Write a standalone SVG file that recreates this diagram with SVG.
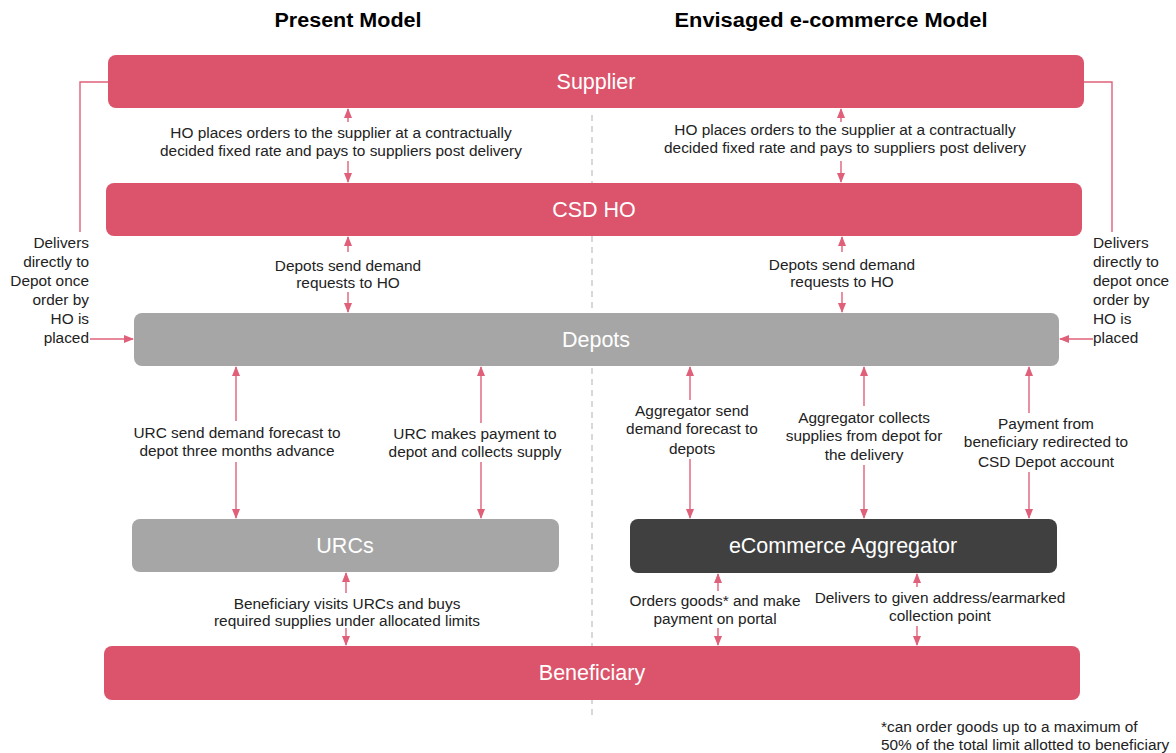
<svg xmlns="http://www.w3.org/2000/svg" width="1176" height="753" viewBox="0 0 1176 753">
<style>
.title{font-family:"Liberation Sans",Arial,sans-serif;font-size:20px;font-weight:bold;fill:#000;text-anchor:middle}
.node{font-family:"Liberation Sans",Arial,sans-serif;font-size:21.5px;fill:#fff;text-anchor:middle;dominant-baseline:central}
.lbl{font-family:"Liberation Sans",Arial,sans-serif;font-size:15.4px;fill:#222;text-anchor:middle}
.red{fill:#DB546B}
.gray{fill:#A6A6A6}
.dark{fill:#404040}
.con{stroke:#E0607A;stroke-width:1.4;fill:none}
.div{stroke:#c8c8c8;stroke-width:1.4;stroke-dasharray:6,5;fill:none}
</style>
<defs>
<marker id="ah" markerUnits="userSpaceOnUse" markerWidth="10" markerHeight="10" viewBox="0 0 10 10" refX="9" refY="5" orient="auto">
<path d="M0,1 L10,5 L0,9 Z" fill="#E0607A"/>
</marker>
</defs>
<rect width="1176" height="753" fill="#fff"/>
<line class="div" x1="592" y1="115" x2="592" y2="716"/>
<text class="title" x="348" y="27" textLength="147" lengthAdjust="spacingAndGlyphs">Present Model</text>
<text class="title" x="831" y="27" textLength="313" lengthAdjust="spacingAndGlyphs">Envisaged e-commerce Model</text>

<g id="supplier"><rect class="red" x="108" y="55" width="976" height="53" rx="8"/><text class="node" x="596" y="82">Supplier</text></g>
<g id="csdho"><rect class="red" x="106" y="183" width="976" height="53" rx="8"/><text class="node" x="594" y="210">CSD HO</text></g>
<g id="depots"><rect class="gray" x="134" y="313" width="925" height="53" rx="8"/><text class="node" x="596" y="340">Depots</text></g>
<g id="urcs"><rect class="gray" x="132" y="519" width="427" height="53" rx="8"/><text class="node" x="345" y="546">URCs</text></g>
<g id="aggregator"><rect class="dark" x="630" y="519" width="427" height="54" rx="8"/><text class="node" x="843" y="546">eCommerce Aggregator</text></g>
<g id="beneficiary"><rect class="red" x="104" y="646" width="976" height="54" rx="8"/><text class="node" x="592" y="673">Beneficiary</text></g>

<g id="connectors">
<line class="con" x1="348" y1="122" x2="348" y2="109" marker-end="url(#ah)"/>
<line class="con" x1="348" y1="161" x2="348" y2="182" marker-end="url(#ah)"/>
<line class="con" x1="841" y1="122" x2="841" y2="109" marker-end="url(#ah)"/>
<line class="con" x1="841" y1="161" x2="841" y2="182" marker-end="url(#ah)"/>

<line class="con" x1="348" y1="252" x2="348" y2="237" marker-end="url(#ah)"/>
<line class="con" x1="348" y1="292" x2="348" y2="312" marker-end="url(#ah)"/>
<line class="con" x1="842" y1="252" x2="842" y2="237" marker-end="url(#ah)"/>
<line class="con" x1="842" y1="292" x2="842" y2="312" marker-end="url(#ah)"/>

<line class="con" x1="236" y1="421" x2="236" y2="367" marker-end="url(#ah)"/>
<line class="con" x1="236" y1="462" x2="236" y2="518" marker-end="url(#ah)"/>
<line class="con" x1="481" y1="423" x2="481" y2="367" marker-end="url(#ah)"/>
<line class="con" x1="481" y1="462" x2="481" y2="518" marker-end="url(#ah)"/>

<line class="con" x1="690" y1="400" x2="690" y2="367" marker-end="url(#ah)"/>
<line class="con" x1="690" y1="459" x2="690" y2="518" marker-end="url(#ah)"/>
<line class="con" x1="864" y1="406" x2="864" y2="367" marker-end="url(#ah)"/>
<line class="con" x1="864" y1="465" x2="864" y2="518" marker-end="url(#ah)"/>
<line class="con" x1="1029" y1="413" x2="1029" y2="367" marker-end="url(#ah)"/>
<line class="con" x1="1029" y1="472" x2="1029" y2="518" marker-end="url(#ah)"/>

<line class="con" x1="346" y1="593" x2="346" y2="573" marker-end="url(#ah)"/>
<line class="con" x1="346" y1="628" x2="346" y2="645" marker-end="url(#ah)"/>
<line class="con" x1="718" y1="591" x2="718" y2="574" marker-end="url(#ah)"/>
<line class="con" x1="718" y1="628" x2="718" y2="645" marker-end="url(#ah)"/>
<line class="con" x1="917" y1="587" x2="917" y2="574" marker-end="url(#ah)"/>
<line class="con" x1="917" y1="626" x2="917" y2="645" marker-end="url(#ah)"/>

<polyline class="con" points="108,82 80,82 80,232"/>
<line class="con" x1="90" y1="339" x2="133" y2="339" marker-end="url(#ah)"/>
<polyline class="con" points="1084,82 1112,82 1112,232"/>
<line class="con" x1="1093" y1="339" x2="1060" y2="339" marker-end="url(#ah)"/>
</g>

<g id="labels">
<text class="lbl" x="341" y="138">HO places orders to the supplier at a contractually</text>
<text class="lbl" x="341" y="156">decided fixed rate and pays to suppliers post delivery</text>
<text class="lbl" x="845" y="135">HO places orders to the supplier at a contractually</text>
<text class="lbl" x="845" y="153">decided fixed rate and pays to suppliers post delivery</text>

<text class="lbl" x="348" y="271">Depots send demand</text>
<text class="lbl" x="348" y="288">requests to HO</text>
<text class="lbl" x="842" y="270">Depots send demand</text>
<text class="lbl" x="842" y="287">requests to HO</text>

<text class="lbl" x="237" y="438">URC send demand forecast to</text>
<text class="lbl" x="237" y="456">depot three months advance</text>
<text class="lbl" x="475" y="439">URC makes payment to</text>
<text class="lbl" x="475" y="457">depot and collects supply</text>

<text class="lbl" x="692" y="416">Aggregator send</text>
<text class="lbl" x="692" y="434">demand forecast to</text>
<text class="lbl" x="692" y="454">depots</text>
<text class="lbl" x="864" y="423">Aggregator collects</text>
<text class="lbl" x="864" y="441">supplies from depot for</text>
<text class="lbl" x="864" y="460">the delivery</text>
<text class="lbl" x="1046" y="429">Payment from</text>
<text class="lbl" x="1046" y="447">beneficiary redirected to</text>
<text class="lbl" x="1046" y="467">CSD Depot account</text>

<text class="lbl" x="347" y="609">Beneficiary visits URCs and buys</text>
<text class="lbl" x="347" y="626">required supplies under allocated limits</text>
<text class="lbl" x="715" y="606">Orders goods* and make</text>
<text class="lbl" x="715" y="624">payment on portal</text>
<text class="lbl" x="940" y="603">Delivers to given address/earmarked</text>
<text class="lbl" x="940" y="621">collection point</text>

<text class="lbl" style="text-anchor:end" x="89" y="248">Delivers</text>
<text class="lbl" style="text-anchor:end" x="89" y="267">directly to</text>
<text class="lbl" style="text-anchor:end" x="89" y="286">Depot once</text>
<text class="lbl" style="text-anchor:end" x="89" y="305">order by</text>
<text class="lbl" style="text-anchor:end" x="89" y="324">HO is</text>
<text class="lbl" style="text-anchor:end" x="89" y="343">placed</text>

<text class="lbl" style="text-anchor:start" x="1093" y="248">Delivers</text>
<text class="lbl" style="text-anchor:start" x="1093" y="267">directly to</text>
<text class="lbl" style="text-anchor:start" x="1093" y="286">depot once</text>
<text class="lbl" style="text-anchor:start" x="1093" y="305">order by</text>
<text class="lbl" style="text-anchor:start" x="1093" y="324">HO is</text>
<text class="lbl" style="text-anchor:start" x="1093" y="343">placed</text>

<text class="lbl" style="text-anchor:start" x="881" y="732">*can order goods up to a maximum of</text>
<text class="lbl" style="text-anchor:start" x="881" y="750">50% of the total limit allotted to beneficiary</text>
</g>
</svg>
